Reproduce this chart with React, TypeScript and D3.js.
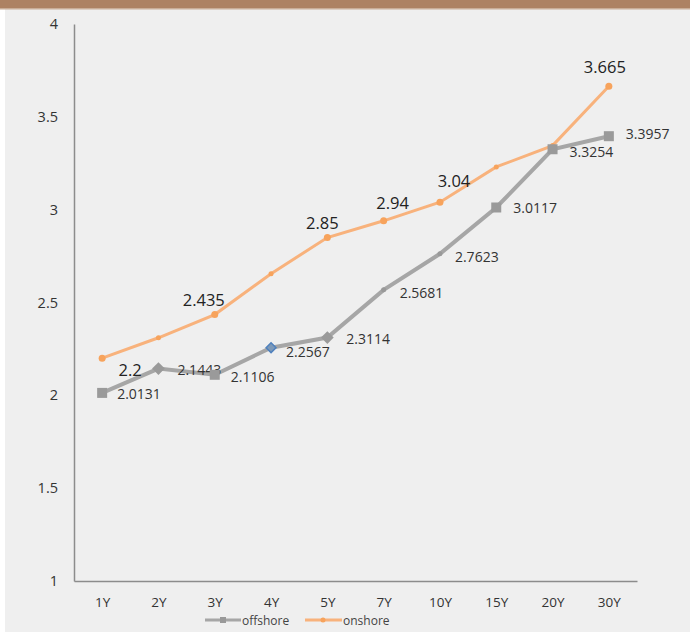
import React, { useEffect, useRef } from "react";
import * as d3 from "d3";

const categories = ["1Y", "2Y", "3Y", "4Y", "5Y", "7Y", "10Y", "15Y", "20Y", "30Y"];
const offshore = [2.0131, 2.1443, 2.1106, 2.2567, 2.3114, 2.5681, 2.7623, 3.0117, 3.3254, 3.3957];
const onshore = [2.2, 2.31, 2.435, 2.655, 2.85, 2.94, 3.04, 3.23, 3.345, 3.665];
const onshoreLabelled = [true, false, true, false, true, true, true, false, false, true];
const yTicks = [1, 1.5, 2, 2.5, 3, 3.5, 4];

// offshore marker types as in the source sheet
const offMarkers = ["square", "diamond", "square", "bluediamond", "diamond", "dot", "dot", "square", "square", "square"];
// label offsets (dx, dy) from each point
const offLabelOff: [number, number][] = [
  [15, 6], [19, 6], [16, 7], [15, 9], [19, 6], [16, 8], [15, 8], [17, 6], [17, 8], [17, 3],
];
const onLabelOff: [number, number][] = [
  [28, 18], [0, -12], [-11, -9], [0, -12], [-5, -9], [9, -12], [14, -15], [0, -12], [0, -12], [-4, -13],
];

export default function App() {
  const ref = useRef<SVGSVGElement | null>(null);

  useEffect(() => {
    const svg = d3.select(ref.current);
    svg.selectAll("*").remove();
    const W = 690, H = 632;
    const font = "'Open Sans', sans-serif";

    svg.append("rect").attr("width", W).attr("height", H).attr("fill", "#efefef");
    svg.append("rect").attr("width", 5).attr("height", H).attr("fill", "#ffffff");
    svg.append("rect").attr("width", W).attr("height", 8).attr("fill", "#ad8263");
    svg.append("rect").attr("y", 8).attr("width", W).attr("height", 1.5).attr("fill", "#c9ad97");

    const x = d3.scalePoint<string>().domain(categories).range([74, 637]).padding(0.5);
    const y = d3.scaleLinear().domain([1, 4]).range([581, 24]);

    // axes
    const yAxis = svg.append("g").attr("transform", "translate(74,0)")
      .call(d3.axisLeft(y).tickValues(yTicks).tickSize(0).tickPadding(16).tickFormat(d => String(d)));
    yAxis.select(".domain").attr("stroke", "#8c8c8c").attr("stroke-width", 1.5);
    yAxis.selectAll("text").attr("font-family", font).attr("font-size", 14.5).attr("fill", "#333");

    const xAxis = svg.append("g").attr("transform", "translate(0,581)")
      .call(d3.axisBottom(x).tickSize(0).tickPadding(16));
    xAxis.select(".domain").attr("stroke", "#8c8c8c").attr("stroke-width", 1.5);
    xAxis.selectAll("text").attr("font-family", font).attr("font-size", 13.5).attr("fill", "#333");

    const line = d3.line<number>().x((_, i) => x(categories[i]) as number).y(d => y(d));

    // onshore
    svg.append("path").datum(onshore).attr("d", line).attr("fill", "none")
      .attr("stroke", "#f8b27c").attr("stroke-width", 3);
    svg.selectAll(".onpt").data(onshore).enter().append("circle")
      .attr("cx", (_, i) => x(categories[i]) as number).attr("cy", d => y(d))
      .attr("r", (_, i) => (onshoreLabelled[i] ? 3.5 : 2.5)).attr("fill", "#f7a35c");

    // offshore
    svg.append("path").datum(offshore).attr("d", line).attr("fill", "none")
      .attr("stroke", "#a6a6a6").attr("stroke-width", 4);
    offshore.forEach((v, i) => {
      const cx = x(categories[i]) as number, cy = y(v);
      const m = offMarkers[i];
      if (m === "square") {
        svg.append("rect").attr("x", cx - 5).attr("y", cy - 5).attr("width", 10).attr("height", 10).attr("fill", "#9a9a9a");
      } else if (m === "diamond") {
        svg.append("rect").attr("x", -4.5).attr("y", -4.5).attr("width", 9).attr("height", 9)
          .attr("transform", `translate(${cx},${cy}) rotate(45)`).attr("fill", "#9a9a9a");
      } else if (m === "bluediamond") {
        svg.append("rect").attr("x", -3.5).attr("y", -3.5).attr("width", 7).attr("height", 7)
          .attr("transform", `translate(${cx},${cy}) rotate(45)`)
          .attr("fill", "#7d99b8").attr("stroke", "#4f81bd").attr("stroke-width", 1.5);
      } else {
        svg.append("circle").attr("cx", cx).attr("cy", cy).attr("r", 2.5).attr("fill", "#999");
      }
      const [dx, dy] = offLabelOff[i];
      svg.append("text").attr("x", cx + dx).attr("y", cy + dy).attr("font-family", font)
        .attr("font-size", 14).attr("fill", "#333").attr("text-anchor", "start").text(String(v));
    });

    onshore.forEach((v, i) => {
      if (!onshoreLabelled[i]) return;
      const cx = x(categories[i]) as number, cy = y(v);
      const [dx, dy] = onLabelOff[i];
      svg.append("text").attr("x", cx + dx).attr("y", cy + dy).attr("font-family", font)
        .attr("font-size", 16.5).attr("fill", "#222").attr("text-anchor", "middle").text(String(v));
    });

    // legend
    const lg = svg.append("g").attr("transform", "translate(0,620)");
    lg.append("line").attr("x1", 205).attr("x2", 241).attr("stroke", "#a6a6a6").attr("stroke-width", 3);
    lg.append("rect").attr("x", 220).attr("y", -3).attr("width", 6).attr("height", 6).attr("fill", "#999");
    lg.append("text").attr("x", 242).attr("y", 4.5).attr("font-family", font).attr("font-size", 12).attr("fill", "#444").text("offshore");
    lg.append("line").attr("x1", 305).attr("x2", 342).attr("stroke", "#f8b27c").attr("stroke-width", 3);
    lg.append("circle").attr("cx", 323).attr("cy", 0).attr("r", 2.5).attr("fill", "#f7a35c");
    lg.append("text").attr("x", 343).attr("y", 4.5).attr("font-family", font).attr("font-size", 12).attr("fill", "#444").text("onshore");
  }, []);

  return <svg ref={ref} width={690} height={632} style={{ position: "absolute", left: 0, top: 0, display: "block" }} />;
}
